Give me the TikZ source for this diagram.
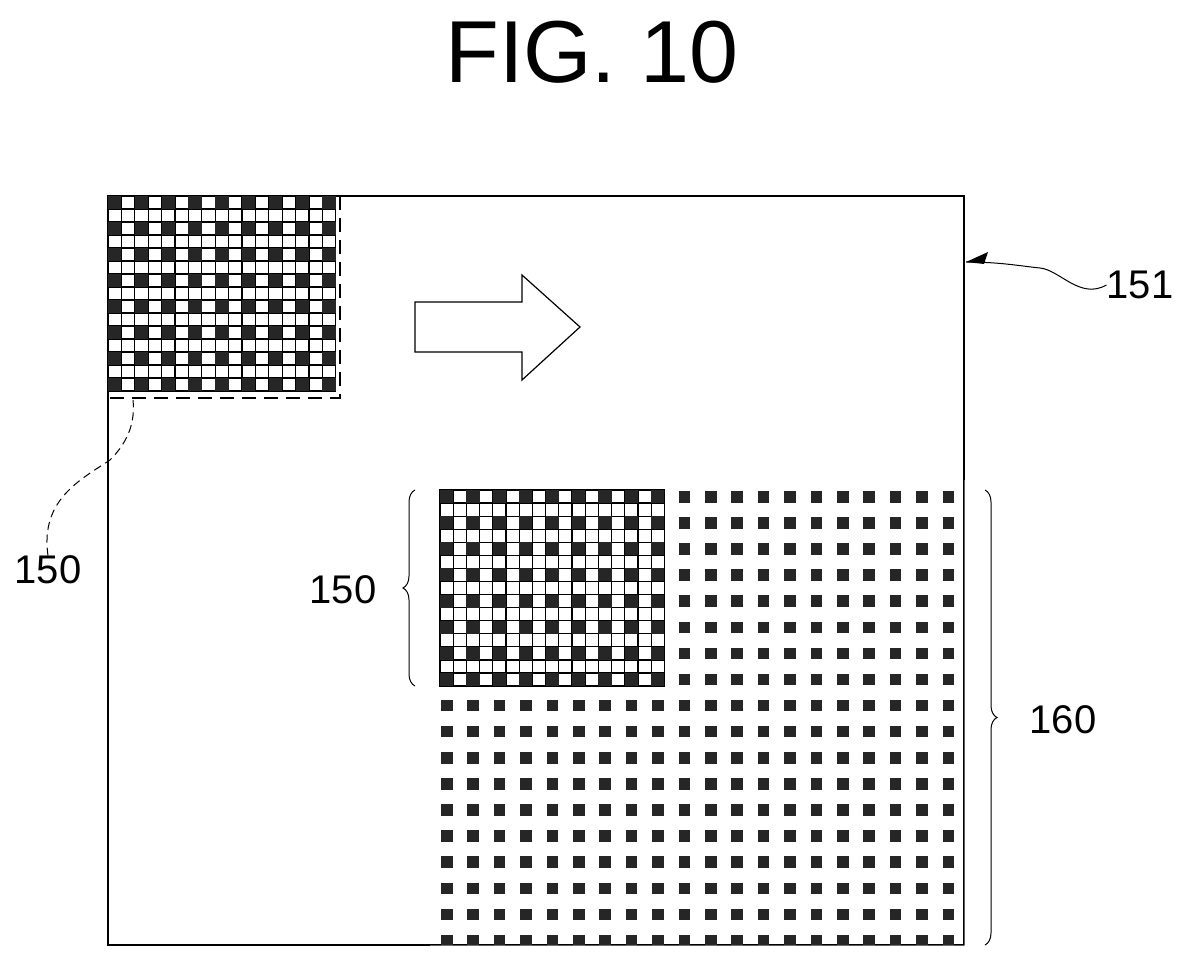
\documentclass[tikz,border=0pt]{standalone}
\usepackage{fontspec}
\setmainfont{Liberation Sans}
\usetikzlibrary{decorations.pathreplacing}
\begin{document}
\begin{tikzpicture}[x=1pt,y=-1pt,
 dk/.style={fill=black!85,draw=none},
 cellw/.style={draw=black,line width=1.2pt,fill=white},
 lbl/.style={font=\fontsize{40}{44}\selectfont,inner sep=0pt},
 brc/.style={decorate,decoration={brace,amplitude=12pt},line width=1pt}]
\useasboundingbox (0,0) rectangle (1184,968);
\node[font=\fontsize{88}{90}\selectfont,inner sep=0pt] (title) at (592,52) {FIG. 10};
% frame
\draw[line width=1.2pt] (108,196) rectangle (964,945);
\coordinate (frameNE) at (966,262);
% top-left pattern
\begin{scope}[shift={(108,196)}]
 \foreach \i in {0,...,16} \foreach \j in {0,...,14} {
  \pgfmathsetmacro{\cx}{\i*13.4}\pgfmathsetmacro{\cy}{\j*13.0}
  \draw[cellw] (\cx,\cy) rectangle ++(13.4,13.0);}
 \foreach \i in {0,2,...,16} \foreach \j in {0,2,...,14}
  \fill[dk] (\i*13.4,\j*13.0) rectangle ++(13.4,13.0);
\end{scope}
\draw[dashed,line width=2pt,dash pattern=on 14pt off 8pt] (340,196) -- (340,398) -- (108,398);
% hollow arrow
\draw[line width=1.2pt,fill=white] (415,302) -- (522,302) -- (522,275) -- (580,327) -- (522,380) -- (522,352) -- (415,352) -- cycle;
% dot array
\foreach \i in {0,...,19} \foreach \j in {0,...,17}
  \fill[dk] (441+\i*26.4,491+\j*26.1) rectangle ++(11.5,11.5);
\fill[white] (964.6,480) rectangle (980,950) (430,945.6) rectangle (980,960);
% bottom 150 pattern
\begin{scope}[shift={(440,490)}]
 \foreach \i in {0,...,16} \foreach \j in {0,...,14} {
  \pgfmathsetmacro{\cx}{\i*13.2}\pgfmathsetmacro{\cy}{\j*13.07}
  \draw[cellw] (\cx,\cy) rectangle ++(13.2,13.07);}
 \foreach \i in {0,2,...,16} \foreach \j in {0,2,...,14}
  \fill[dk] (\i*13.2,\j*13.07) rectangle ++(13.2,13.07);
\end{scope}
% labels
\node[lbl] (l151) at (1140,285) {151};
\draw[line width=1pt] (l151.west) .. controls (1080,300) and (1060,270) .. (1040,268) .. controls (1020,266) and (1000,262) .. (frameNE);
\fill (frameNE) -- ++(22,-10) -- ++(-4,12) -- cycle;
\node[lbl] (l150a) at (48,570) {150};
\coordinate (c150) at (133,400);
\draw[dashed,line width=1pt,dash pattern=on 8pt off 5pt] (l150a.north) .. controls (40,500) and (80,480) .. (110,460) .. controls (130,440) and (135,420) .. (c150);
\node[lbl] (l150b) at (343,590) {150};
\draw[brc] (415,686) -- (415,490);
\node[lbl] (l160) at (1063,720) {160};
\draw[brc] (985,490) -- (985,945);
\end{tikzpicture}
\end{document}
